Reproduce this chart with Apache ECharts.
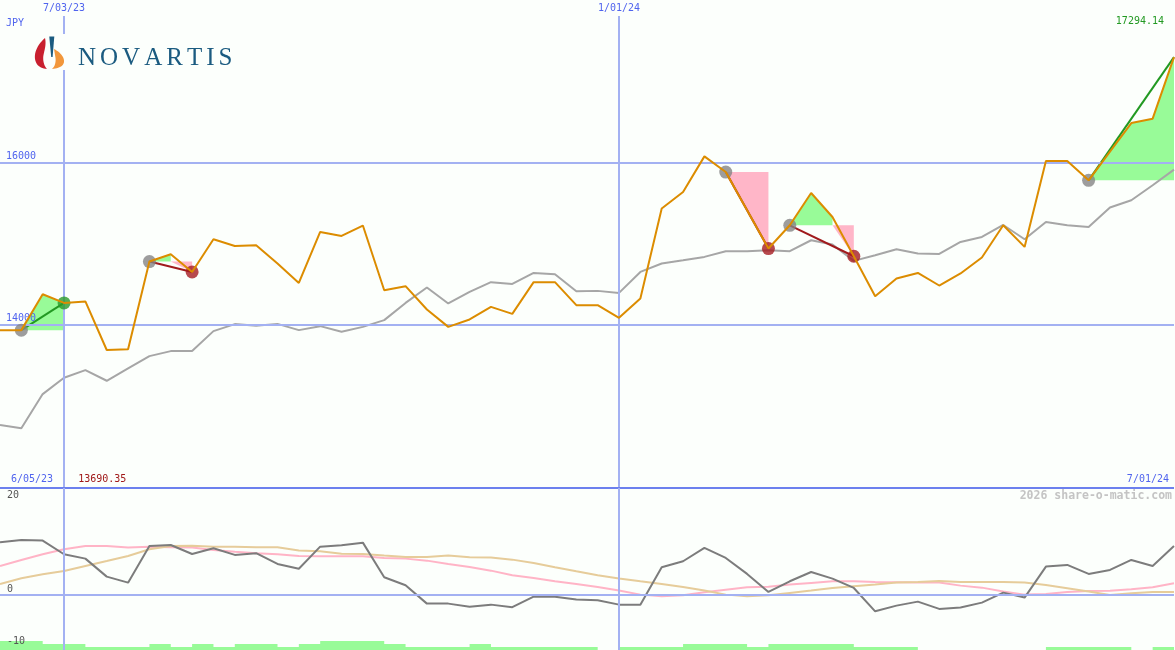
<!DOCTYPE html>
<html><head><meta charset="utf-8">
<script src="https://cdn.jsdelivr.net/npm/echarts@6/dist/echarts.min.js"></script>
<style>html,body{margin:0;padding:0;background:#fcfffc}#c{width:1175px;height:650px}</style>
</head><body><div id="c"></div>
<script>
// ---------- data ----------
const dates = ['6/12/23','6/19/23','6/26/23','7/03/23','7/10/23','7/17/23','7/24/23','7/31/23','8/07/23','8/14/23',
 '8/21/23','8/28/23','9/04/23','9/11/23','9/18/23','9/25/23','10/02/23','10/09/23','10/16/23','10/23/23',
 '10/30/23','11/06/23','11/13/23','11/20/23','11/27/23','12/04/23','12/11/23','12/18/23','12/25/23','1/01/24',
 '1/08/24','1/15/24','1/22/24','1/29/24','2/05/24','2/12/24','2/19/24','2/26/24','3/04/24','3/11/24',
 '3/18/24','3/25/24','4/01/24','4/08/24','4/15/24','4/22/24','4/29/24','5/06/24','5/13/24','5/20/24',
 '5/27/24','6/03/24','6/10/24','6/17/24','6/24/24','7/01/24'];
const price = [13935,13935,14377,14270,14288,13690.35,13701,14779,14869,14651,
 15053,14971,14980,14755,14516,15143,15094,15222,14426,14476,
 14189,13975,14066,14221,14135,14525,14525,14242,14242,14086,
 14324,15431,15635,16073,15880,15410,14939,15225,15622,15327,
 14844,14353,14570,14639,14484,14632,14828,15225,14959,16016,
 16016,15778,16131,16483,16537,17294.14];
const slowAvg = [12767,12727,13148,13349,13443,13312,13464,13615,13677,13677,
 13923,14009,13988,14012,13935,13984,13914,13975,14058,14270,
 14460,14263,14406,14525,14504,14639,14623,14414,14418,14393,
 14651,14755,14795,14836,14906,14906,14918,14906,15041,14988,
 14787,14857,14930,14877,14873,15020,15081,15229,15053,15266,
 15225,15204,15443,15533,15717,15910];
const oscFast = [9.95,10.4,10.26,7.69,6.86,3.46,2.32,9.26,9.44,7.74,
 8.82,7.56,7.88,5.86,4.95,9.12,9.38,9.88,3.34,1.83,
 -1.64,-1.64,-2.21,-1.83,-2.32,-0.32,-0.32,-0.88,-1.0,-1.83,
 -1.83,5.23,6.36,8.88,6.99,3.97,0.57,2.58,4.34,3.09,
 1.32,-3.09,-2.02,-1.26,-2.64,-2.39,-1.45,0.44,-0.5,5.35,
 5.67,3.97,4.72,6.61,5.48,9.26];
const oscPink = [5.48,6.61,7.69,8.63,9.26,9.26,8.94,9.12,9.0,8.94,
 8.5,8.18,7.88,7.69,7.37,7.31,7.31,7.31,6.99,6.86,
 6.48,5.86,5.29,4.59,3.72,3.21,2.58,2.08,1.51,0.82,
 0.06,-0.25,-0.06,0.5,1.0,1.45,1.57,1.95,2.27,2.58,
 2.58,2.46,2.4,2.33,2.33,1.76,1.38,0.63,0.06,0.19,
 0.57,0.76,0.8,1.07,1.45,2.2];
const oscTan = [2.08,3.15,3.91,4.53,5.48,6.42,7.37,8.63,9.26,9.3,
 9.12,9.12,9.0,9.0,8.4,8.25,7.8,7.75,7.43,7.18,
 7.18,7.43,7.12,7.05,6.67,6.04,5.23,4.47,3.72,3.09,
 2.58,2.08,1.51,0.82,0.06,-0.25,-0.06,0.38,0.82,1.32,
 1.64,1.95,2.33,2.46,2.64,2.46,2.46,2.46,2.33,1.89,
 1.26,0.63,0,0.31,0.57,0.57];
const barLevels = [3,3,2,2,1,1,1,2,1,2,
 1,2,2,1,2,3,3,3,2,1,
 1,1,2,1,1,1,1,1,0,1,
 1,1,2,2,2,1,2,2,2,2,
 1,1,1,0,0,0,0,0,0,1,
 1,1,1,0,1,1];
const sigStart = [1,7,34,37,51];
const sigEnd   = [3,9,36,40,55];
const sigClosed = [true,true,true,true,false];
const mainTicks = [14000,16000];
const oscTicks = [20,0,-10];
const markedDates = ['7/03/23','1/01/24'];
const firstLabel = '6/05/23';
const currency = 'JPY';
const watermark = '2026 share-o-matic.com';
const brand = 'NOVARTIS';

// ---------- styles ----------
const BG = '#fcfffc', BLUE_TXT = '#5064ee', GRID = '#a3b1f2', SEP = '#6c80ee';
const MONO = '"DejaVu Sans Mono", monospace';
const UP_FILL = '#98fb98', DN_FILL = '#ffb6c8', UP_LINE = '#229922', DN_LINE = '#a01a1c';
const CLEAR = 'rgba(0,0,0,0)';

const lastV = price[price.length - 1];
const minV = Math.min.apply(null, price);

function runs(s, e) {
  const base = price[s];
  const out = [];
  let cur = null;
  for (let k = s; k < e; k++) {
    const up = price[k + 1] >= base;
    if (!cur || cur.up !== up) {
      if (cur) out.push(cur);
      const sv = up ? Math.max(price[k], base) : Math.min(price[k], base);
      cur = { up: up, pts: [[k, base], [k, sv]] };
    }
    cur.pts.push([k + 1, price[k + 1]]);
    cur.end = k + 1;
  }
  if (cur) out.push(cur);
  out.forEach(r => r.pts.push([r.end, base]));
  return out;
}

// logo outline helper (cubic bezier sampling, decoration only)
function shape(start, curves) {
  const pts = [start];
  let p0 = start;
  curves.forEach(c => {
    for (let i = 1; i <= 12; i++) {
      const t = i / 12, u = 1 - t;
      pts.push([
        u*u*u*p0[0] + 3*u*u*t*c[0][0] + 3*u*t*t*c[1][0] + t*t*t*c[2][0],
        u*u*u*p0[1] + 3*u*u*t*c[0][1] + 3*u*t*t*c[1][1] + t*t*t*c[2][1]
      ]);
    }
    p0 = c[2];
  });
  return pts;
}
const redFlame = shape([45,38], [[[38,44],[34,52],[35,59]], [[36,65],[40,68.5],[47,69]],
  [[44,66],[42.5,60],[43.5,55]], [[44.5,50],[46.5,44],[45,38]]]);
const orangeFlame = shape([54,49], [[[60,52],[64.5,57],[64,62]], [[63.5,66],[59,68.5],[52,69]],
  [[55,66.5],[56,62],[55.5,58]], [[55,55],[54.5,52],[54,49]]]);

const txt = (color, extra) => Object.assign({ show: true, color: color, fontFamily: MONO, fontSize: 10 }, extra || {});

const mainMarks = {
  silent: true, symbol: ['none', 'none'], animation: false,
  data: [].concat(
    mainTicks.map(v => ({ yAxis: v, lineStyle: { color: GRID, width: 2, type: 'solid' },
      label: txt(BLUE_TXT, { position: 'insideStartTop', formatter: String(v), distance: 1, padding: [0, 0, 0, 5] }) })),
    markedDates.map(d => ({ xAxis: d, lineStyle: { color: GRID, width: 2, type: 'solid' },
      label: txt(BLUE_TXT, { position: 'end', formatter: d, distance: 3 }) })),
    [{ yAxis: 12000, lineStyle: { color: SEP, width: 2, type: 'solid' },
       label: { show: true, position: 'insideStartTop', distance: 3, padding: [0, 0, 0, 8],
         formatter: '{d|' + firstLabel + '}{r|' + minV.toFixed(2) + '}',
         rich: { d: { color: BLUE_TXT, fontFamily: MONO, fontSize: 10 },
                 r: { color: '#a01818', fontFamily: MONO, fontSize: 10, padding: [0, 0, 0, 25] } } } },
     { yAxis: 12000, lineStyle: { color: CLEAR, width: 1, type: 'solid' },
       label: txt(BLUE_TXT, { position: 'insideEndTop', formatter: dates[dates.length - 1], distance: 3, padding: [0, 2, 0, 0] }) }]
  )
};

const oscMarks = {
  silent: true, symbol: ['none', 'none'], animation: false,
  data: [].concat(
    markedDates.map(d => ({ xAxis: d, lineStyle: { color: GRID, width: 2, type: 'solid' }, label: { show: false } })),
    oscTicks.map(v => ({ yAxis: v,
      lineStyle: { color: v === 0 ? GRID : CLEAR, width: v === 0 ? 2 : 1, type: 'solid' },
      label: txt('#555555', { position: v === 20 ? 'insideStartBottom' : 'insideStartTop', formatter: String(v), distance: 1, padding: [0, 0, 0, 6] }) }))
  )
};

const sigLines = sigStart.map((s, k) => {
  const e = sigEnd[k];
  return { type: 'line', xAxisIndex: 0, yAxisIndex: 0, z: 4, symbol: 'none', silent: true,
    data: [[s, price[s]], [e, price[e]]],
    lineStyle: { color: price[e] >= price[s] ? UP_LINE : DN_LINE, width: 2 } };
});

const dots = [];
sigStart.forEach((s, k) => {
  dots.push({ value: [s, price[s]], itemStyle: { color: '#858585' } });
  if (sigClosed[k]) {
    const e = sigEnd[k];
    dots.push({ value: [e, price[e]], itemStyle: { color: price[e] >= price[s] ? '#2a9a2a' : '#a51c20' } });
  }
});

const axisOff = { show: false };
const option = {
  backgroundColor: BG,
  animation: false,
  textStyle: { fontFamily: MONO },
  grid: [
    { left: 0, right: 1, top: 16, height: 471.4, containLabel: false, outerBoundsMode: 'none' },
    { left: 0, right: 1, top: 488, height: 162, containLabel: false, outerBoundsMode: 'none' },
    { left: 0, right: 1, top: 638, height: 12, containLabel: false, outerBoundsMode: 'none' }
  ],
  xAxis: [0, 1, 2].map(g => ({ type: 'category', gridIndex: g, data: dates, boundaryGap: false, show: false })),
  yAxis: [
    { type: 'value', gridIndex: 0, min: 12000, max: 17800, name: currency, nameLocation: 'end', nameGap: -2,
      nameTextStyle: { color: BLUE_TXT, fontFamily: MONO, fontSize: 10, align: 'left', verticalAlign: 'top', padding: [0, 0, 0, 6] },
      axisLine: axisOff, axisTick: axisOff, axisLabel: axisOff, splitLine: axisOff },
    { type: 'value', gridIndex: 1, min: -10.4, max: 20.2, show: false, splitLine: axisOff },
    { type: 'value', gridIndex: 2, min: 0, max: 4, show: false, splitLine: axisOff }
  ],
  series: [
    { type: 'line', name: 'gridlines', xAxisIndex: 0, yAxisIndex: 0, z: 1, data: [], markLine: mainMarks, silent: true },
    { type: 'custom', name: 'signal areas', xAxisIndex: 0, yAxisIndex: 0, z: 2, silent: true,
      data: sigStart.map(s => [s, price[s]]),
      renderItem: function (params, api) {
        const k = params.dataIndex;
        return { type: 'group', children: runs(sigStart[k], sigEnd[k]).map(r => ({
          type: 'polygon', shape: { points: r.pts.map(p => api.coord(p)) },
          style: { fill: r.up ? UP_FILL : DN_FILL } })) };
      } },
    { type: 'line', name: 'average', xAxisIndex: 0, yAxisIndex: 0, z: 3, data: slowAvg, symbol: 'none', silent: true,
      lineStyle: { color: '#a6a6a6', width: 2 } },
    ...sigLines,
    { type: 'scatter', name: 'signals', xAxisIndex: 0, yAxisIndex: 0, z: 5, symbolSize: 13, data: dots, silent: true },
    { type: 'line', name: 'price', xAxisIndex: 0, yAxisIndex: 0, z: 6, data: price, symbol: 'none', silent: true,
      lineStyle: { color: '#dc8c00', width: 2 } },
    { type: 'line', name: 'osc grid', xAxisIndex: 1, yAxisIndex: 1, z: 1, data: [], markLine: oscMarks, silent: true },
    { type: 'line', name: 'osc pink', xAxisIndex: 1, yAxisIndex: 1, z: 2, data: oscPink, symbol: 'none', silent: true,
      lineStyle: { color: '#ffb4c6', width: 2 } },
    { type: 'line', name: 'osc tan', xAxisIndex: 1, yAxisIndex: 1, z: 3, data: oscTan, symbol: 'none', silent: true,
      lineStyle: { color: '#e6cc9a', width: 2 } },
    { type: 'line', name: 'osc fast', xAxisIndex: 1, yAxisIndex: 1, z: 4, data: oscFast, symbol: 'none', silent: true,
      lineStyle: { color: '#7c7c7c', width: 2 } },
    { type: 'line', name: 'levels', xAxisIndex: 2, yAxisIndex: 2, z: 1, data: barLevels, step: 'end', symbol: 'none', silent: true,
      lineStyle: { width: 0, opacity: 0 }, areaStyle: { color: UP_FILL, opacity: 1 } }
  ],
  graphic: [
    { type: 'rect', z: 100, shape: { x: 30, y: 34, width: 212, height: 36 }, style: { fill: BG } },
    { type: 'polygon', z: 101, shape: { points: redFlame }, style: { fill: '#c8202f' } },
    { type: 'polygon', z: 101, shape: { points: orangeFlame }, style: { fill: '#f2973b' } },
    { type: 'polygon', z: 101, shape: { points: [[49.3, 36.5], [54.3, 36.5], [52.6, 57], [51.2, 57]] }, style: { fill: '#1b5b80' } },
    { type: 'text', z: 101, x: 76, y: 58.5, style: {
        text: brand.split('').map(c => '{l|' + c + '}').join(''),
        rich: { l: { fontFamily: '"Liberation Serif", serif', fontSize: 25, fill: '#1b5b80', padding: [0, 2, 0, 2] } },
        align: 'left', verticalAlign: 'middle' } },
    { type: 'text', z: 101, x: 1164, y: 21.5, style: { text: lastV.toFixed(2), fill: '#229922', font: '10px ' + MONO, align: 'right', verticalAlign: 'middle' } },
    { type: 'text', z: 101, x: 1172, y: 496, style: { text: watermark, fill: '#c4c4c4', font: 'bold 11.5px ' + MONO, align: 'right', verticalAlign: 'middle' } }
  ]
};
const chart = echarts.init(document.getElementById('c'), null, { renderer: 'canvas' });
chart.setOption(option);
</script>
</body></html>
